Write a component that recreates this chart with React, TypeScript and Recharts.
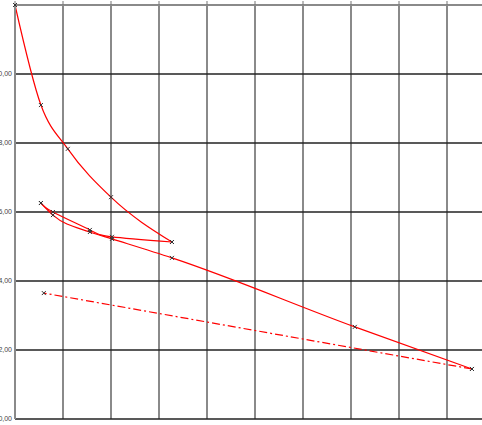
import { LineChart, Line, XAxis, YAxis, CartesianGrid } from 'recharts';

// curve pieces (x in grid units, y in axis units)
const descentX = [0, 0.54, 1.1, 2.0, 3.27];
const descentY = [12.0, 9.1, 7.83, 6.43, 5.13];

const returnX = [3.27, 2.02, 1.56, 0.79, 0.54];
const returnY = [5.13, 5.28, 5.48, 6.0, 6.26];

const mainX = [0.54, 0.79, 1.56, 2.02, 3.27, 7.08, 9.52];
const mainY = [6.26, 5.91, 5.42, 5.22, 4.67, 2.67, 1.45];

const dashX = [9.52, 0.6];
const dashY = [1.45, 3.65];

const xTicks = [0, 1, 2, 3, 4, 5, 6, 7, 8, 9, 10];
const yTicks = [0, 2, 4, 6, 8, 10];

const toPoints = (xs: number[], ys: number[]) => xs.map((x, i) => ({ x, y: ys[i] }));

const Cross = (props: any) => {
  const { cx, cy } = props;
  if (cx == null || cy == null) return null;
  return (
    <path
      d={`M${cx - 2},${cy - 2}L${cx + 2},${cy + 2}M${cx + 2},${cy - 2}L${cx - 2},${cy + 2}`}
      stroke="#333"
      strokeWidth={1}
      fill="none"
    />
  );
};

const fmt = (v: number) => v.toFixed(2).replace('.', ',');

export default function App() {
  return (
    <div
      style={{
        position: 'fixed',
        left: 0,
        top: 0,
        width: 482,
        height: 425,
        overflow: 'hidden',
        background: '#fff',
      }}
    >
      <div style={{ position: 'absolute', left: -25, top: -25 }}>
        <LineChart width={530} height={454} margin={{ top: 0, right: 10, bottom: 10, left: 0 }}>
          <CartesianGrid horizontal={false} stroke="#8a8a8a" strokeWidth={2} />
          <CartesianGrid vertical={false} stroke="#222" strokeWidth={1.5} />
          <XAxis
            type="number"
            dataKey="x"
            orientation="top"
            height={30}
            domain={[0, 10]}
            ticks={xTicks}
            tickSize={4}
            tickFormatter={fmt}
            stroke="#777"
            axisLine={{ stroke: '#8a8a8a', strokeWidth: 2 }}
            tick={{ fontSize: 7, fill: '#444', fontFamily: 'Liberation Sans' }}
          />
          <YAxis
            type="number"
            dataKey="y"
            width={40}
            domain={[0, 12]}
            ticks={yTicks}
            tickSize={0}
            tickMargin={3}
            tickFormatter={fmt}
            axisLine={{ stroke: '#8a8a8a', strokeWidth: 2 }}
            tick={{ fontSize: 7, fill: '#444', fontFamily: 'Liberation Sans' }}
          />
          <Line
            data={toPoints(descentX, descentY)}
            dataKey="y"
            type="monotone"
            stroke="#ff0000"
            strokeWidth={1.2}
            dot={<Cross />}
            isAnimationActive={false}
          />
          <Line
            data={toPoints(returnX, returnY)}
            dataKey="y"
            type="natural"
            stroke="#ff0000"
            strokeWidth={1.2}
            dot={<Cross />}
            isAnimationActive={false}
          />
          <Line
            data={toPoints(mainX, mainY)}
            dataKey="y"
            type="monotone"
            stroke="#ff0000"
            strokeWidth={1.2}
            dot={<Cross />}
            isAnimationActive={false}
          />
          <Line
            data={toPoints(dashX, dashY)}
            dataKey="y"
            type="linear"
            stroke="#ff0000"
            strokeWidth={1.2}
            strokeDasharray="8 3 2 3"
            dot={<Cross />}
            isAnimationActive={false}
          />
        </LineChart>
      </div>
    </div>
  );
}
